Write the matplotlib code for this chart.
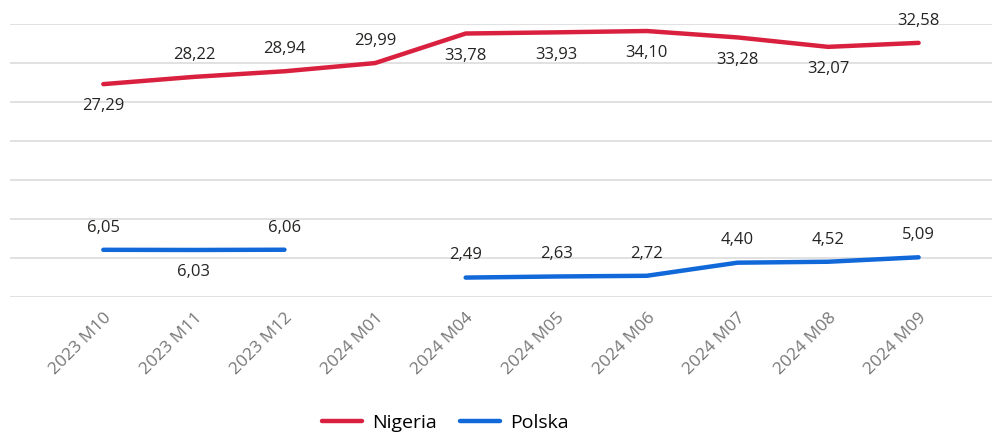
import numpy as np
import matplotlib
matplotlib.use("Agg")
import matplotlib.pyplot as plt

plt.rcParams['font.family'] = ['Open Sans', 'DejaVu Sans']

# 資料
months = ["2023 M10", "2023 M11", "2023 M12", "2024 M01", "2024 M04",
          "2024 M05", "2024 M06", "2024 M07", "2024 M08", "2024 M09"]
nigeria = [27.29, 28.22, 28.94, 29.99, 33.78, 33.93, 34.10, 33.28, 32.07, 32.58]
polska = [6.05, 6.03, 6.06, np.nan, 2.49, 2.63, 2.72, 4.40, 4.52, 5.09]

# 標籤位置（1 = 上方, -1 = 下方）
nigeria_side = [-1, 1, 1, 1, -1, -1, -1, -1, -1, 1]
polska_side = [1, -1, 1, 1, 1, 1, 1, 1, 1, 1]

red = "#d9213f"
blue = "#1168d9"

fig = plt.figure(figsize=(9.92, 4.32), dpi=100)
ax = fig.add_axes([10 / 992, 135 / 432, 982 / 992, 273 / 432])

x = np.arange(len(months))
ax.plot(x, nigeria, color=red, lw=3.2, solid_capstyle="round", label="Nigeria", clip_on=False)
ax.plot(x, polska, color=blue, lw=3.2, solid_capstyle="round", label="Polska", clip_on=False)

for series, sides in [(nigeria, nigeria_side), (polska, polska_side)]:
    for xi, v, s in zip(x, series, sides):
        if np.isnan(v):
            continue
        ax.annotate(f"{v:.2f}".replace(".", ","), (xi, v), xytext=(0, 16 * s),
                    textcoords="offset points", ha="center", va="center",
                    fontsize=12, color="#252423")

ax.set_xlim(-1.03, 9.81)
ax.set_ylim(0, 35)
ax.set_yticks(np.arange(0, 36, 5))
ax.set_yticklabels([])
ax.tick_params(axis="y", length=0)
ax.grid(axis="y", color="#e1e1e1", lw=1.4)
ax.set_axisbelow(True)
for sp in ax.spines.values():
    sp.set_visible(False)

ax.set_xticks(x)
ax.set_xticklabels(months, rotation=45, ha="right", rotation_mode="anchor",
                   fontsize=12.5, color="#777777")
ax.tick_params(axis="x", length=0, pad=9)

fig.legend(loc="center", bbox_to_anchor=(0.449, 0.021), ncol=2, frameon=False,
           fontsize=14, handlelength=2.05, handletextpad=0.5, columnspacing=1.2)

fig.savefig("out.png", dpi=100)
